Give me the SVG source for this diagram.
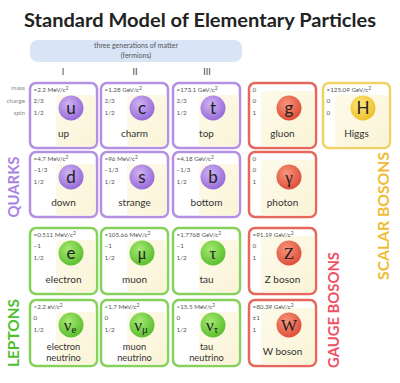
<svg xmlns="http://www.w3.org/2000/svg" width="400" height="383" viewBox="0 0 400 383">
<defs>
<radialGradient id="gq" cx="0.4" cy="0.35" r="0.7"><stop offset="0" stop-color="#cfb3f3"/><stop offset="1" stop-color="#9466d6"/></radialGradient>
<radialGradient id="gl" cx="0.4" cy="0.35" r="0.7"><stop offset="0" stop-color="#a6e874"/><stop offset="1" stop-color="#56bd29"/></radialGradient>
<radialGradient id="gg" cx="0.4" cy="0.35" r="0.7"><stop offset="0" stop-color="#f8957a"/><stop offset="1" stop-color="#dc4a36"/></radialGradient>
<radialGradient id="gh" cx="0.4" cy="0.35" r="0.7"><stop offset="0" stop-color="#fce679"/><stop offset="1" stop-color="#eebd25"/></radialGradient>
<linearGradient id="cream" x1="0" y1="0" x2="1" y2="1"><stop offset="0" stop-color="#fdfaea"/><stop offset="1" stop-color="#faf4d6"/></linearGradient>
</defs>
<style>
text{font-family:Lato,"Noto Sans","Liberation Sans",sans-serif}
.title{font-size:18px;font-weight:bold;fill:#222}
.ban{font-size:7px;fill:#555;text-anchor:middle}
.gen{font-size:9px;fill:#444;text-anchor:middle}
.lab{font-size:6.3px;fill:#888;text-anchor:end}
.card{fill:#fff;stroke-width:2.5}
.q .card{stroke:#b48fe2}
.l .card{stroke:#86d15c}
.b .card{stroke:#e6675b}
.h .card{stroke:#f2d166}
.y{fill:url(#cream)}
.v{font-size:6.3px;fill:#555}
.nm{font-size:10px;fill:#333;text-anchor:middle}
.nm2{font-size:9.3px;fill:#333;text-anchor:middle}
.sym{font-size:17px;fill:#222;text-anchor:middle}
.gk{font-family:"Liberation Serif","DejaVu Serif",serif}
.side{font-size:15px;font-weight:bold;text-anchor:middle}
</style>
<rect width="400" height="383" fill="#fff"/>
<text class="title" x="200" y="27" text-anchor="middle" textLength="352" lengthAdjust="spacingAndGlyphs">Standard Model of Elementary Particles</text>
<g id="banner">
<rect x="30" y="40" width="212" height="22" rx="8" fill="#d9e4f7"/>
<text class="ban" x="136" y="48">three generations of matter</text>
<text class="ban" x="136" y="58">(fermions)</text>
</g>
<g id="generations">
<text class="gen" x="63" y="75">I</text>
<text class="gen" x="135" y="75">II</text>
<text class="gen" x="207" y="75">III</text>
</g>
<g id="row-labels">
<text class="lab" x="25" y="90">mass</text>
<text class="lab" x="25" y="102.5">charge</text>
<text class="lab" x="25" y="115">spin</text>
</g>

<g id="up" class="q" transform="translate(30,83)">
<rect class="card" width="67" height="65" rx="6"/><rect class="y" x="26" y="12" width="39.5" height="51.5" rx="4"/>
<text class="v" x="3.5" y="8.5">≈2.2 MeV/c<tspan dy="-2" font-size="5">2</tspan></text>
<text class="v" x="3.5" y="19.5">2/3</text><text class="v" x="3.5" y="32">1/2</text>
<circle cx="41" cy="25" r="12.5" fill="url(#gq)"/><text class="sym" x="41" y="30.5">u</text>
<text class="nm" x="33.5" y="54">up</text></g>

<g id="charm" class="q" transform="translate(101,83)">
<rect class="card" width="67" height="65" rx="6"/><rect class="y" x="26" y="12" width="39.5" height="51.5" rx="4"/>
<text class="v" x="3.5" y="8.5">≈1.28 GeV/c<tspan dy="-2" font-size="5">2</tspan></text>
<text class="v" x="3.5" y="19.5">2/3</text><text class="v" x="3.5" y="32">1/2</text>
<circle cx="41" cy="25" r="12.5" fill="url(#gq)"/><text class="sym" x="41" y="30.5">c</text>
<text class="nm" x="33.5" y="54">charm</text></g>

<g id="top" class="q" transform="translate(173,83)">
<rect class="card" width="67" height="65" rx="6"/><rect class="y" x="26" y="12" width="39.5" height="51.5" rx="4"/>
<text class="v" x="3.5" y="8.5">≈173.1 GeV/c<tspan dy="-2" font-size="5">2</tspan></text>
<text class="v" x="3.5" y="19.5">2/3</text><text class="v" x="3.5" y="32">1/2</text>
<circle cx="40" cy="25" r="12.5" fill="url(#gq)"/><text class="sym" x="40" y="30.5">t</text>
<text class="nm" x="33.5" y="54">top</text></g>

<g id="down" class="q" transform="translate(30,152)">
<rect class="card" width="67" height="65" rx="6"/><rect class="y" x="26" y="12" width="39.5" height="51.5" rx="4"/>
<text class="v" x="3.5" y="8.5">≈4.7 MeV/c<tspan dy="-2" font-size="5">2</tspan></text>
<text class="v" x="3.5" y="19.5">−1/3</text><text class="v" x="3.5" y="32">1/2</text>
<circle cx="41" cy="25" r="12.5" fill="url(#gq)"/><text class="sym" x="41" y="30.5">d</text>
<text class="nm" x="33.5" y="54">down</text></g>

<g id="strange" class="q" transform="translate(101,152)">
<rect class="card" width="67" height="65" rx="6"/><rect class="y" x="26" y="12" width="39.5" height="51.5" rx="4"/>
<text class="v" x="3.5" y="8.5">≈96 MeV/c<tspan dy="-2" font-size="5">2</tspan></text>
<text class="v" x="3.5" y="19.5">−1/3</text><text class="v" x="3.5" y="32">1/2</text>
<circle cx="41" cy="25" r="12.5" fill="url(#gq)"/><text class="sym" x="41" y="30.5">s</text>
<text class="nm" x="33.5" y="54">strange</text></g>

<g id="bottom" class="q" transform="translate(173,152)">
<rect class="card" width="67" height="65" rx="6"/><rect class="y" x="26" y="12" width="39.5" height="51.5" rx="4"/>
<text class="v" x="3.5" y="8.5">≈4.18 GeV/c<tspan dy="-2" font-size="5">2</tspan></text>
<text class="v" x="3.5" y="19.5">−1/3</text><text class="v" x="3.5" y="32">1/2</text>
<circle cx="40" cy="25" r="12.5" fill="url(#gq)"/><text class="sym" x="40" y="30.5">b</text>
<text class="nm" x="33.5" y="54">bottom</text></g>

<g id="electron" class="l" transform="translate(30,228)">
<rect class="card" width="67" height="66" rx="6"/><rect class="y" x="26" y="12" width="39.5" height="52.5" rx="4"/>
<text class="v" x="3.5" y="8.5">≈0.511 MeV/c<tspan dy="-2" font-size="5">2</tspan></text>
<text class="v" x="3.5" y="19.5">−1</text><text class="v" x="3.5" y="32">1/2</text>
<circle cx="41" cy="25" r="12.5" fill="url(#gl)"/><text class="sym" x="41" y="30.5">e</text>
<text class="nm" x="33.5" y="55">electron</text></g>

<g id="muon" class="l" transform="translate(101,228)">
<rect class="card" width="67" height="66" rx="6"/><rect class="y" x="26" y="12" width="39.5" height="52.5" rx="4"/>
<text class="v" x="3.5" y="8.5">≈105.66 MeV/c<tspan dy="-2" font-size="5">2</tspan></text>
<text class="v" x="3.5" y="19.5">−1</text><text class="v" x="3.5" y="32">1/2</text>
<circle cx="41" cy="25" r="12.5" fill="url(#gl)"/><text class="sym gk" x="41" y="30.5">μ</text>
<text class="nm" x="33.5" y="55">muon</text></g>

<g id="tau" class="l" transform="translate(173,228)">
<rect class="card" width="67" height="66" rx="6"/><rect class="y" x="26" y="12" width="39.5" height="52.5" rx="4"/>
<text class="v" x="3.5" y="8.5">≈1.7768 GeV/c<tspan dy="-2" font-size="5">2</tspan></text>
<text class="v" x="3.5" y="19.5">−1</text><text class="v" x="3.5" y="32">1/2</text>
<circle cx="40" cy="25" r="12.5" fill="url(#gl)"/><text class="sym gk" x="40" y="30.5">τ</text>
<text class="nm" x="33.5" y="55">tau</text></g>

<g id="electron-neutrino" class="l" transform="translate(30,300)">
<rect class="card" width="67" height="66" rx="6"/><rect class="y" x="26" y="12" width="39.5" height="52.5" rx="4"/>
<text class="v" x="3.5" y="8.5">&lt;2.2 eV/c<tspan dy="-2" font-size="5">2</tspan></text>
<text class="v" x="3.5" y="19.5">0</text><text class="v" x="3.5" y="32">1/2</text>
<circle cx="41" cy="25" r="12.5" fill="url(#gl)"/><text class="sym gk" x="40" y="30.5">ν<tspan font-size="11" dy="2">e</tspan></text>
<text class="nm2" x="33.5" y="50">electron</text><text class="nm2" x="33.5" y="61">neutrino</text></g>

<g id="muon-neutrino" class="l" transform="translate(101,300)">
<rect class="card" width="67" height="66" rx="6"/><rect class="y" x="26" y="12" width="39.5" height="52.5" rx="4"/>
<text class="v" x="3.5" y="8.5">&lt;1.7 MeV/c<tspan dy="-2" font-size="5">2</tspan></text>
<text class="v" x="3.5" y="19.5">0</text><text class="v" x="3.5" y="32">1/2</text>
<circle cx="41" cy="25" r="12.5" fill="url(#gl)"/><text class="sym gk" x="40" y="30.5">ν<tspan font-size="11" dy="2">μ</tspan></text>
<text class="nm2" x="33.5" y="50">muon</text><text class="nm2" x="33.5" y="61">neutrino</text></g>

<g id="tau-neutrino" class="l" transform="translate(173,300)">
<rect class="card" width="67" height="66" rx="6"/><rect class="y" x="26" y="12" width="39.5" height="52.5" rx="4"/>
<text class="v" x="3.5" y="8.5">&lt;15.5 MeV/c<tspan dy="-2" font-size="5">2</tspan></text>
<text class="v" x="3.5" y="19.5">0</text><text class="v" x="3.5" y="32">1/2</text>
<circle cx="40" cy="25" r="12.5" fill="url(#gl)"/><text class="sym gk" x="39" y="30.5">ν<tspan font-size="11" dy="2">τ</tspan></text>
<text class="nm2" x="33.5" y="50">tau</text><text class="nm2" x="33.5" y="61">neutrino</text></g>

<g id="gluon" class="b" transform="translate(249,83)">
<rect class="card" width="67" height="65" rx="6"/><rect class="y" x="12" y="8" width="53.5" height="55.5" rx="4"/>
<text class="v" x="3.5" y="8.5">0</text>
<text class="v" x="3.5" y="19.5">0</text><text class="v" x="3.5" y="32">1</text>
<circle cx="40" cy="25" r="12.5" fill="url(#gg)"/><text class="sym" x="40" y="30.5">g</text>
<text class="nm" x="33.5" y="54">gluon</text></g>

<g id="photon" class="b" transform="translate(249,152)">
<rect class="card" width="67" height="65" rx="6"/><rect class="y" x="12" y="8" width="53.5" height="55.5" rx="4"/>
<text class="v" x="3.5" y="8.5">0</text>
<text class="v" x="3.5" y="19.5">0</text><text class="v" x="3.5" y="32">1</text>
<circle cx="40" cy="25" r="12.5" fill="url(#gg)"/><text class="sym gk" x="40" y="30.5">γ</text>
<text class="nm" x="33.5" y="54">photon</text></g>

<g id="z-boson" class="b" transform="translate(249,228)">
<rect class="card" width="67" height="66" rx="6"/><rect class="y" x="12" y="8" width="53.5" height="56.5" rx="4"/>
<text class="v" x="3.5" y="8.5">≈91.19 GeV/c<tspan dy="-2" font-size="5">2</tspan></text>
<text class="v" x="3.5" y="19.5">0</text><text class="v" x="3.5" y="32">1</text>
<circle cx="40" cy="25" r="12.5" fill="url(#gg)"/><text class="sym gk" x="40" y="31">Z</text>
<text class="nm" x="33.5" y="55">Z boson</text></g>

<g id="w-boson" class="b" transform="translate(249,300)">
<rect class="card" width="67" height="66" rx="6"/><rect class="y" x="12" y="8" width="53.5" height="56.5" rx="4"/>
<text class="v" x="3.5" y="8.5">≈80.39 GeV/c<tspan dy="-2" font-size="5">2</tspan></text>
<text class="v" x="3.5" y="19.5">±1</text><text class="v" x="3.5" y="32">1</text>
<circle cx="40" cy="25" r="12.5" fill="url(#gg)"/><text class="sym gk" x="40" y="31">W</text>
<text class="nm" x="33.5" y="55">W boson</text></g>

<g id="higgs" class="h" transform="translate(323,83)">
<rect class="card" width="67" height="65" rx="6"/><rect class="y" x="12" y="12" width="53.5" height="51.5" rx="4"/>
<text class="v" x="3.5" y="8.5">≈125.09 GeV/c<tspan dy="-2" font-size="5">2</tspan></text>
<text class="v" x="3.5" y="19.5">0</text><text class="v" x="3.5" y="32">0</text>
<circle cx="40" cy="25" r="12.5" fill="url(#gh)"/><text class="sym" x="40" y="31">H</text>
<text class="nm" x="33.5" y="54">Higgs</text></g>

<g id="group-labels">
<text class="side" transform="translate(19,187) rotate(-90)" fill="#a983e2" textLength="61" lengthAdjust="spacingAndGlyphs">QUARKS</text>
<text class="side" transform="translate(19,333) rotate(-90)" fill="#4fbf2e" textLength="68" lengthAdjust="spacingAndGlyphs">LEPTONS</text>
<text class="side" transform="translate(339,310) rotate(-90)" fill="#ef5264" textLength="116" lengthAdjust="spacingAndGlyphs">GAUGE BOSONS</text>
<text class="side" transform="translate(389,216) rotate(-90)" fill="#f0bc35" textLength="128" lengthAdjust="spacingAndGlyphs">SCALAR BOSONS</text>
</g>
</svg>
